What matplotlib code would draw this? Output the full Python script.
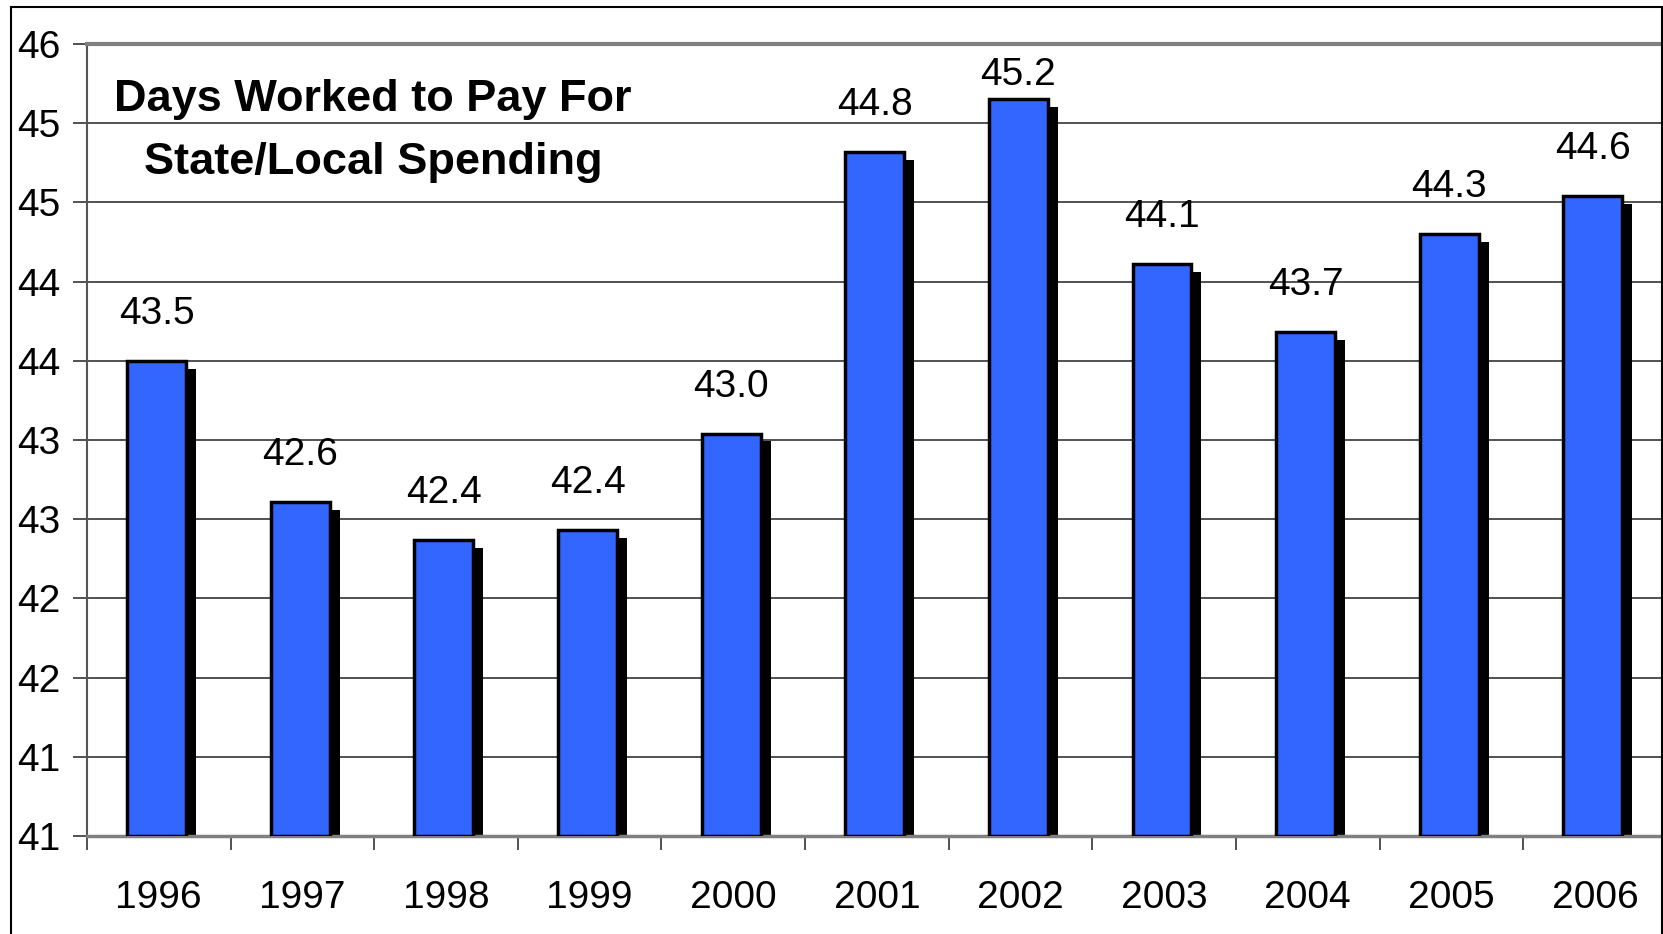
import numpy as np
import matplotlib.pyplot as plt
from matplotlib.patches import Rectangle

# dane
years = ['1996', '1997', '1998', '1999', '2000', '2001', '2002', '2003', '2004', '2005', '2006']
days = [43.5, 42.61, 42.37, 42.43, 43.04, 44.82, 45.15, 44.11, 43.68, 44.30, 44.54]
day_labels = ['43.5', '42.6', '42.4', '42.4', '43.0', '44.8', '45.2', '44.1', '43.7', '44.3', '44.6']
yticks = [40.5, 41.0, 41.5, 42.0, 42.5, 43.0, 43.5, 44.0, 44.5, 45.0, 45.5]
ytick_labels = ['41', '41', '42', '42', '43', '43', '44', '44', '45', '45', '46']

plt.rcParams['font.family'] = ['Liberation Sans', 'DejaVu Sans']

fig = plt.figure(figsize=(16.63, 9.34), dpi=100)
ax = fig.add_axes([0.0523, 0.105, 0.950, 0.848])

base = 40.5
top = 45.5
x = np.arange(len(years))
w = 0.41
xc = x - 0.015

# cien pod słupkami
ax.bar(xc + 0.07, np.array(days) - 0.05 - base, bottom=base, width=w,
       color='black', edgecolor='black', linewidth=0, zorder=2)
ax.bar(xc, np.array(days) - base, bottom=base, width=w,
       color='#3366FF', edgecolor='black', linewidth=2.5, zorder=3)

# etykiety nad słupkami (przy górnej krawędzi przesunięte w dół, jak w Excelu)
px_per_unit = 0.848 * 934 / (top - base)
off = 26.5 * 100 / 72 / px_per_unit
for xi, v, lab in zip(xc, days, day_labels):
    yl = min(v + off, top - 0.26)
    ax.text(xi, yl, lab, ha='center', va='baseline', fontsize=28)

ax.set_xlim(-0.5, len(years) - 0.5)
ax.set_ylim(base, top)
ax.set_yticks(yticks)
ax.set_yticklabels(ytick_labels, fontsize=28)
ax.yaxis.grid(True, color='#333333', linewidth=1.2, zorder=0)
ax.set_axisbelow(True)

ax.set_xticks(x)
ax.set_xticklabels(years, fontsize=28)
ax.set_xticks(np.arange(len(years) + 1) - 0.5, minor=True)
ax.tick_params(axis='x', which='major', length=0, pad=32)
ax.tick_params(axis='x', which='minor', length=10, width=1.2, color='#333333')
ax.tick_params(axis='y', length=10, width=1.2, color='#333333', pad=9)

ax.spines['top'].set_color('#808080')
ax.spines['top'].set_linewidth(3)
ax.spines['bottom'].set_color('#808080')
ax.spines['bottom'].set_linewidth(2.5)
ax.spines['left'].set_color('#555555')
ax.spines['left'].set_linewidth(1.5)
ax.spines['right'].set_visible(False)

ax.text(0.181, 0.956, 'Days Worked to Pay For\nState/Local Spending',
        transform=ax.transAxes, ha='center', va='top', fontsize=32.5,
        fontweight='bold', linespacing=1.7)

# ramka wokół całego wykresu
fig.patches.append(Rectangle((11 / 1663, -0.01), 1651 / 1663, 1 - 7 / 934 + 0.01,
                             transform=fig.transFigure, fill=False,
                             edgecolor='black', linewidth=1.5))

fig.savefig('out.png', dpi=100)
